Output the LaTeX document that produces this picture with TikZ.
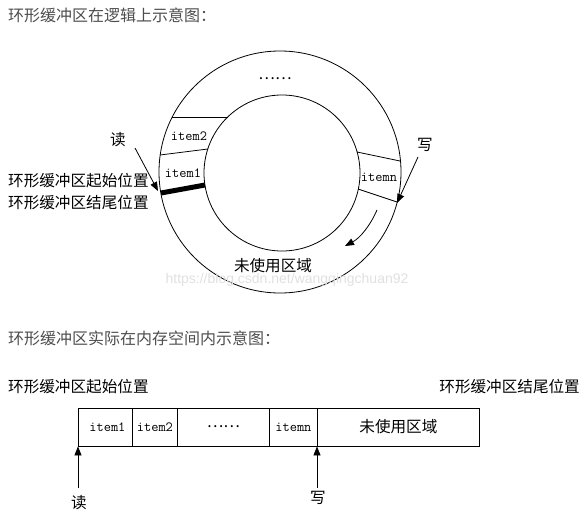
\documentclass[tikz,border=0pt]{standalone}
\usepackage{fontspec}
\usetikzlibrary{arrows.meta}
\newfontfamily\cjk{Noto Sans CJK SC}
\newfontfamily\wmfont{Liberation Sans}
\definecolor{headgray}{HTML}{4D4D4D}
\begin{document}
\begin{tikzpicture}[x=1pt,y=-1pt,
  heading/.style={anchor=west,inner sep=0pt,font=\cjk\fontsize{16}{19}\selectfont,text=headgray},
  label/.style={inner sep=0pt,font=\cjk\fontsize{15.6}{18}\selectfont},
  itemtxt/.style={inner sep=0pt,font=\ttfamily\fontsize{14}{16}\selectfont},
  ring/.style={line width=0.8pt},
  divider/.style={line width=0.8pt},
  pointer/.style={line width=0.8pt,-{Triangle[length=9pt,width=7pt]}},
  cell/.style={draw,line width=0.8pt,minimum height=38pt,anchor=west,inner sep=0pt}]
\useasboundingbox (0,0) rectangle (585,519);

% ---------- logical view: the ring ----------
\node[heading] (t1) at (8,15) {环形缓冲区在逻辑上示意图：};

\coordinate (oc) at (280,172);
\coordinate (ic) at (282,173);
\draw[ring] (oc) circle[radius=121pt];
\draw[ring] (ic) circle[radius=78pt];

% slot boundaries between the two circles
\coordinate (a1) at (172,117); \coordinate (a2) at (228,117);
\coordinate (b1) at (160,155); \coordinate (b2) at (208,149);
\coordinate (h1) at (161,193); \coordinate (h2) at (205,185);
\coordinate (n1) at (357,152); \coordinate (n2) at (400,161);
\coordinate (m1) at (358,189); \coordinate (m2) at (397,202);
\draw[divider] (a1) -- (a2);
\draw[divider] (b1) -- (b2);
\draw[line width=5pt] (h1) -- (h2);
\draw[divider] (n1) -- (n2);
\draw[divider] (m1) -- (m2);

\node[label] (dots1) at (275,79) {……};
\node[itemtxt] (i2) at (189,136) {item2};
\node[itemtxt] (i1) at (183,173) {item1};
\node[itemtxt] (in) at (379,177) {itemn};
\node[label] (free1) at (273,266) {未使用区域};

\node[label] (rd1) at (118,140) {读};
\node[label] (wr1) at (425,145) {写};
\coordinate (rd1s) at (135,148);
\coordinate (rd1e) at (158,191);
\coordinate (wr1s) at (418,157);
\coordinate (wr1e) at (397,203);
\draw[pointer] (rd1s) -- (rd1e);
\draw[pointer] (wr1s) -- (wr1e);

% direction of travel
\coordinate (dirs) at (377,210);
\coordinate (dire) at (345,246);
\draw[pointer] (dirs) .. controls (370,226) and (360,238) .. (dire);

\node[label,anchor=west] (start1) at (8,181) {环形缓冲区起始位置};
\node[label,anchor=west] (end1) at (8,203) {环形缓冲区结尾位置};

\node[inner sep=0pt,font=\wmfont\fontsize{14}{16}\selectfont,text=black!12] (wm) at (287,280) {https://blog.csdn.net/wangqingchuan92};

% ---------- physical view: linear memory ----------
\node[heading] (t2) at (8,338) {环形缓冲区实际在内存空间内示意图：};

\node[label,anchor=west] (start2) at (8,387) {环形缓冲区起始位置};
\node[label,anchor=east] (end2) at (580,387) {环形缓冲区结尾位置};

\node[cell,minimum width=54pt] (c1) at (78,427) {};
\node[cell,minimum width=45pt] (c2) at (132,427) {};
\node[cell,minimum width=92pt] (c3) at (177,427) {};
\node[cell,minimum width=48pt] (c4) at (269,427) {};
\node[cell,minimum width=162pt] (c5) at (317,427) {};

\node[itemtxt] at ([xshift=2pt]c1.center) {item1};
\node[itemtxt] at (c2.center) {item2};
\node[label] at (c3.center) {……};
\node[itemtxt] at (c4.center) {itemn};
\node[label] at (c5.center) {未使用区域};

\coordinate (rd2s) at (78,488);
\coordinate (wr2s) at (317,488);
\draw[pointer] (rd2s) -- (c1.south west);
\draw[pointer] (wr2s) -- (c5.south west);
\node[label] (rd2) at (79,503) {读};
\node[label] (wr2) at (318,498) {写};
\end{tikzpicture}
\end{document}
